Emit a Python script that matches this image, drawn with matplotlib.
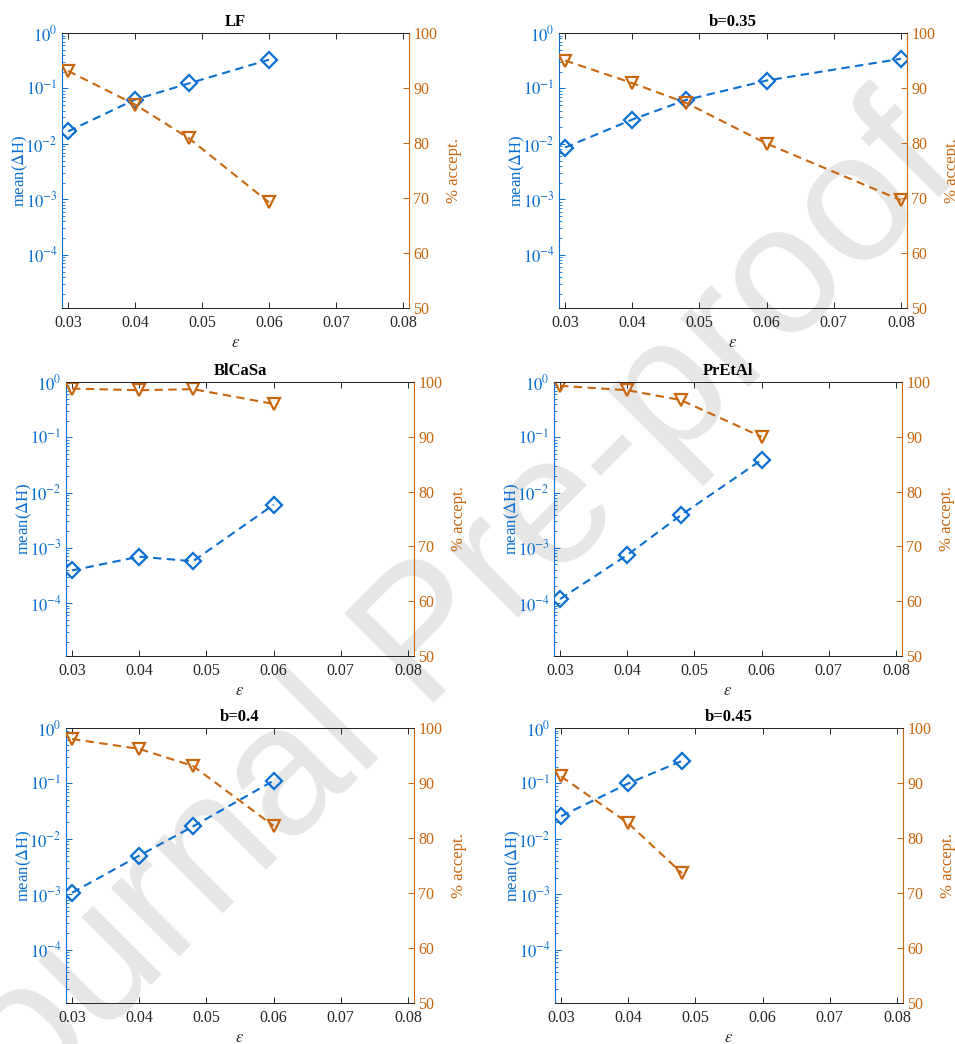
import numpy as np
import matplotlib.pyplot as plt
from matplotlib.ticker import FixedLocator, LogLocator, NullFormatter, FuncFormatter

plt.rcParams['font.family'] = ['Liberation Serif', 'DejaVu Serif']
plt.rcParams['mathtext.fontset'] = 'stix'

# step sizes and results per integrator
eps_lf = [0.03, 0.04, 0.048, 0.06]
dH_lf = [0.0168, 0.063, 0.123, 0.33]
acc_lf = [93.1, 87.0, 80.9, 69.2]

eps_b35 = [0.03, 0.04, 0.048, 0.06, 0.08]
dH_b35 = [0.0086, 0.0275, 0.062, 0.139, 0.343]
acc_b35 = [95.0, 90.9, 87.3, 79.9, 69.6]

eps_blcasa = [0.03, 0.04, 0.048, 0.06]
dH_blcasa = [3.9e-4, 6.9e-4, 5.7e-4, 6.0e-3]
acc_blcasa = [98.8, 98.5, 98.7, 96.0]

eps_pretal = [0.03, 0.04, 0.048, 0.06]
dH_pretal = [1.18e-4, 7.4e-4, 3.9e-3, 0.039]
acc_pretal = [99.3, 98.5, 96.7, 90.0]

eps_b40 = [0.03, 0.04, 0.048, 0.06]
dH_b40 = [1.07e-3, 5.0e-3, 0.0168, 0.112]
acc_b40 = [98.0, 96.2, 93.1, 82.2]

eps_b45 = [0.03, 0.04, 0.048]
dH_b45 = [0.0256, 0.1, 0.255]
acc_b45 = [91.2, 82.7, 73.6]

titles = ['LF', 'b=0.35', 'BlCaSa', 'PrEtAl', 'b=0.4', 'b=0.45']
panels = [(eps_lf, dH_lf, acc_lf), (eps_b35, dH_b35, acc_b35),
          (eps_blcasa, dH_blcasa, acc_blcasa), (eps_pretal, dH_pretal, acc_pretal),
          (eps_b40, dH_b40, acc_b40), (eps_b45, dH_b45, acc_b45)]
xticks = [0.03, 0.04, 0.05, 0.06, 0.07, 0.08]

blue = '#0a6fd0'
orange = '#c9660e'
dark = '#262626'

W, H = 955, 1044
# axes boxes in pixels: left, right, top, bottom
boxes = [(62, 409, 33, 308), (559, 907, 33, 308),
         (66, 414, 382, 656), (554, 902, 382, 656),
         (66, 414, 728, 1003), (555, 903, 728, 1003)]

fig = plt.figure(figsize=(W / 100, H / 100), dpi=100)

fig.text(430 / W, 1 - 640 / H, 'Journal Pre-proof', fontsize=132, color='#e6e6e6',
         family='Liberation Sans', rotation=45, ha='center', va='center',
         rotation_mode='anchor', zorder=-1)

for (l, r, t, b), (x, dh, acc), title in zip(boxes, panels, titles):
    ax = fig.add_axes([l / W, 1 - b / H, (r - l) / W, (b - t) / H])
    ax.patch.set_visible(False)
    ax2 = ax.twinx()
    ax2.patch.set_visible(False)

    ax.plot(x, dh, ls='--', dashes=(4, 2.6), lw=1.5, color=blue, marker='D',
            ms=8, mfc='none', mew=1.6)
    ax2.plot(x, acc, ls='--', dashes=(4, 2.6), lw=1.5, color=orange, marker='v',
             ms=9, mfc='none', mew=1.6)

    ax.set_xlim(0.0291, 0.0809)
    ax.set_yscale('log')
    ax.set_ylim(1.1e-5, 1)
    ax.yaxis.set_major_locator(FixedLocator([1e-4, 1e-3, 1e-2, 1e-1, 1e0]))
    ax.yaxis.set_major_formatter(FuncFormatter(lambda v, p: r'$10^{%d}$' % round(np.log10(v))))
    ax.yaxis.set_minor_locator(LogLocator(base=10, subs=np.arange(2, 10), numticks=20))
    ax.yaxis.set_minor_formatter(NullFormatter())
    ax2.set_ylim(50, 100)
    ax2.set_yticks([50, 60, 70, 80, 90, 100])

    ax.set_xticks(xticks)
    ax.set_xticklabels(['%.2f' % v for v in xticks])

    ax.tick_params(axis='x', direction='in', top=True, length=4, width=0.7,
                   colors=dark, labelsize=11.5, pad=5)
    ax.tick_params(axis='y', which='major', direction='in', length=4, width=0.7,
                   colors=blue, labelsize=12, pad=3)
    ax.tick_params(axis='y', which='minor', direction='in', length=2, width=0.6,
                   colors=blue)
    ax2.tick_params(axis='y', direction='in', length=4, width=0.7, colors=orange,
                    labelsize=11.5, pad=3)

    for a in (ax, ax2):
        a.spines['top'].set_color(dark)
        a.spines['bottom'].set_color(dark)
        a.spines['top'].set_linewidth(0.7)
        a.spines['bottom'].set_linewidth(0.7)
    ax.spines['left'].set_color(blue)
    ax.spines['right'].set_visible(False)
    ax2.spines['left'].set_visible(False)
    ax2.spines['right'].set_color(orange)

    ax.set_ylabel(r'mean($\Delta$H)', color=blue, fontsize=12, labelpad=-3)
    ax2.set_ylabel('% accept.', color=orange, fontsize=12, labelpad=6)
    ax.set_xlabel(r'$\epsilon$', color=dark, fontsize=12, labelpad=3)
    ax.set_title(title, fontsize=12, fontweight='bold', pad=5)

fig.savefig('out.png', dpi=100)
